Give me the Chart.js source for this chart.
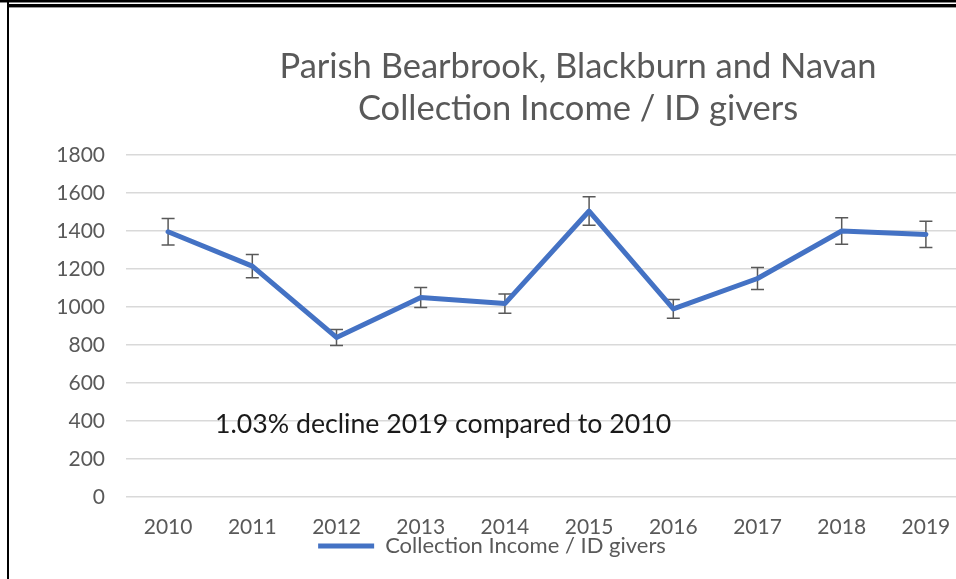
<!DOCTYPE html>
<html>
<head>
<meta charset="utf-8">
<script src="https://cdn.jsdelivr.net/npm/chart.js"></script>
<style>
html,body{margin:0;padding:0;background:#fff;overflow:hidden;width:956px;height:579px;}
.wrap{position:absolute;left:0;top:0;width:984px;height:579px;}
.line{position:absolute;background:#000;}
.title{position:absolute;left:228px;width:700px;text-align:center;font-family:Lato,sans-serif;font-size:34.5px;color:#595959;white-space:nowrap;line-height:42px;}
.note{position:absolute;left:215px;top:407px;font-family:Lato,sans-serif;font-size:26.7px;color:#1a1a1a;white-space:nowrap;}
</style>
</head>
<body>
<div class="line" style="left:0;top:0;width:956px;height:2px;"></div>
<div class="line" style="left:0;top:2px;width:956px;height:1px;background:#888"></div>
<div class="line" style="left:7px;top:4px;width:949px;height:3px;"></div>
<div class="line" style="left:7px;top:7px;width:949px;height:1px;background:#999"></div>
<div class="line" style="left:7px;top:0;width:2px;height:579px;"></div>
<div class="wrap"><canvas id="chart" width="984" height="579"></canvas></div>
<div class="title" style="top:44px;">Parish Bearbrook, Blackburn and Navan<br>Collection Income / ID givers</div>
<div class="note">1.03% decline 2019 compared to 2010</div>
<script>
const years = ['2010','2011','2012','2013','2014','2015','2016','2017','2018','2019'];
const income = [1396,1215,840,1050,1018,1505,990,1150,1400,1382];
const errorPct = 0.05;
const yTicks = [0,200,400,600,800,1000,1200,1400,1600,1800];

const errorBars = {
  id:'errorBars',
  beforeDatasetsDraw(chart){
    const ctx = chart.ctx;
    const y = chart.scales.y;
    const meta = chart.getDatasetMeta(0);
    ctx.save();
    ctx.strokeStyle = '#595959';
    ctx.lineWidth = 1.5;
    meta.data.forEach((pt,i)=>{
      const v = income[i];
      const top = y.getPixelForValue(v*(1+errorPct));
      const bot = y.getPixelForValue(v*(1-errorPct));
      ctx.beginPath();
      ctx.moveTo(pt.x,top); ctx.lineTo(pt.x,bot);
      ctx.moveTo(pt.x-6.5,top); ctx.lineTo(pt.x+6.5,top);
      ctx.moveTo(pt.x-6.5,bot); ctx.lineTo(pt.x+6.5,bot);
      ctx.stroke();
    });
    ctx.restore();
  }
};

// legend sits tight under the year labels, like the excel one
const legendNudge = {
  id:'legendNudge',
  afterLayout(chart){
    const lg = chart.legend;
    lg.top -= 10; lg.bottom -= 10;
    lg.left += 8; lg.right += 8;
  }
};

new Chart(document.getElementById('chart'),{
  type:'line',
  data:{
    labels:years,
    datasets:[{
      label:'Collection Income / ID givers',
      data:income,
      borderColor:'#4472C4',
      backgroundColor:'#4472C4',
      borderWidth:5,
      borderCapStyle:'round',
      borderJoinStyle:'round',
      pointRadius:0,
      tension:0
    }]
  },
  options:{
    responsive:false,
    animation:false,
    layout:{padding:{top:155,left:0,right:16,bottom:2}},
    plugins:{
      title:{display:false},
      tooltip:{enabled:false},
      legend:{
        position:'bottom',
        labels:{
          usePointStyle:true,
          pointStyle:'line',
          pointStyleWidth:56,
          boxHeight:5,
          padding:4,
          color:'#595959',
          font:{family:'Lato',size:22}
        }
      }
    },
    scales:{
      y:{
        min:0,max:1800,
        afterBuildTicks(s){ s.ticks = yTicks.map(v=>({value:v})); },
        afterFit(s){ s.width = 126; },
        ticks:{color:'#595959',padding:21,font:{family:'Lato',size:21},callback:v=>String(v)},
        grid:{color:'#d9d9d9',lineWidth:1.5,drawTicks:false},
        border:{display:false}
      },
      x:{
        offset:true,
        afterFit(s){ s.height = 44; },
        ticks:{color:'#595959',padding:10,font:{family:'Lato',size:21},maxRotation:0,autoSkip:false},
        grid:{display:false,offset:true},
        border:{display:false}
      }
    }
  },
  plugins:[errorBars,legendNudge]
});
</script>
</body>
</html>
